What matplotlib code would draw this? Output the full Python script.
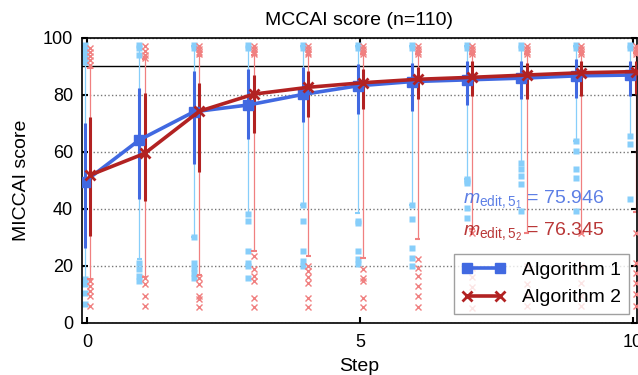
import numpy as np
import matplotlib
matplotlib.use("Agg")
import matplotlib.pyplot as plt

plt.rcParams['font.family'] = ['Liberation Sans', 'DejaVu Sans']
plt.rcParams['mathtext.fontset'] = 'custom'
plt.rcParams['mathtext.rm'] = 'Liberation Sans'
plt.rcParams['mathtext.it'] = 'Liberation Sans:italic'

steps = list(range(11))

# Algorithm 1 (blue)
mean1 = [49.5, 64.1, 74.0, 76.4, 80.1, 83.1, 84.6, 85.2, 85.8, 86.6, 86.9]
box1_lo = [26.3, 43.3, 55.6, 64.6, 70.4, 73.3, 74.3, 76.3, 78.4, 78.9, 79.5]
box1_hi = [70.2, 82.5, 88.3, 88.9, 89.8, 90.6, 91.2, 91.8, 91.8, 92.4, 91.8]
wh1_lo = [15.5, 22.2, 30.2, 38.0, 41.2, 38.6, 41.2, 50.5, 56.1, 63.7, 65.5]
wh1_hi = [97.0, 97.0, 97.0, 97.0, 97.0, 97.0, 97.0, 97.0, 97.0, 97.0, 97.0]
out1_lo = [[15.2, 13.5, 10.5, 6.4],
           [21.1, 18.7, 16.4, 14.6],
           [30.2, 21.1, 19.3, 17.5, 15.8],
           [38.0, 35.7, 25.1, 21.1, 19.9, 15.8],
           [41.2, 35.7, 25.1, 21.6, 19.9],
           [35.7, 35.1, 25.1, 22.2, 20.5],
           [41.2, 36.3, 26.3, 22.8, 19.9],
           [50.5, 49.7, 49.1, 40.4, 36.8],
           [56.1, 53.8, 51.5, 48.5, 39.2],
           [63.7, 60.2, 53.8, 50.9, 39.2],
           [65.5, 62.6, 43.3]]
out1_hi = [[97.5, 96.0, 94.5, 93.0, 91.5],
           [97.5, 96.5, 94.0],
           [97.5, 96.5], [97.5, 96.5], [97.5, 96.5], [97.5, 96.5],
           [97.5, 96.5], [97.5, 96.5], [97.5, 96.5], [97.5, 96.5],
           [97.5, 96.5]]

# Algorithm 2 (red)
mean2 = [51.8, 59.4, 74.2, 80.2, 82.6, 84.2, 85.4, 86.1, 86.9, 87.7, 88.1]
box2_lo = [30.4, 42.7, 52.9, 66.4, 72.3, 75.1, 78.4, 79.5, 78.4, 79.5, 80.1]
box2_hi = [72.3, 80.5, 84.2, 86.8, 88.3, 89.1, 89.8, 91.8, 91.2, 91.8, 91.8]
wh2_lo = [15.2, 16.1, 16.7, 25.1, 23.4, 22.7, 29.2, 33.0, 31.6, 31.4, 38.8]
wh2_hi = [89.5, 92.6, 93.6, 94.0, 94.0, 94.2, 94.2, 94.2, 94.2, 94.5, 94.5]
out2_lo = [[14.6, 12.9, 11.2, 9.4, 5.8],
           [15.8, 13.5, 9.4, 5.8],
           [15.8, 13.5, 9.4, 8.2, 5.6],
           [23.4, 18.7, 16.4, 14.6, 8.8, 5.6],
           [19.9, 18.0, 16.0, 14.0, 8.8, 5.6],
           [18.7, 15.8, 14.6, 8.8, 5.6],
           [22.2, 19.3, 16.4, 12.9, 9.4, 5.6],
           [31.4, 19.3, 16.1, 12.6, 5.0],
           [19.9, 13.5, 9.4, 5.8],
           [31.4, 19.9, 14.0, 9.4, 5.8],
           [31.6, 21.0, 17.5, 14.0, 9.9, 5.8]]
out2_hi = [[96.5, 95.0, 93.5, 92.0, 90.5],
           [97.0, 95.5, 94.0, 93.0],
           [97.0, 96.0, 95.0, 94.2], [97.0, 96.0, 95.0, 94.2],
           [97.0, 96.0, 95.0, 94.2], [97.0, 96.0, 95.0, 94.2],
           [97.0, 96.0, 95.0, 94.2], [97.0, 96.0, 95.0, 94.2],
           [97.0, 96.0, 95.0, 94.2], [97.0, 96.0, 95.0, 94.2],
           [97.0, 96.0, 95.0, 94.2]]

m_edit1 = 75.946
m_edit2 = 76.345

fig = plt.figure(figsize=(6.38, 3.75), dpi=100)
ax = fig.add_axes([0.1285, 0.1395, 0.8699, 0.760])

off = 0.05
x = np.array(steps, dtype=float)
x1 = x - off
x2 = x + off


def draw_spread(xs, lo, hi, blo, bhi, olo, ohi, light, dark, marker, z):
    # thin whiskers with caps
    ax.vlines(xs, lo, hi, color=light, lw=0.9, zorder=z)
    ax.hlines(lo, xs - 0.05, xs + 0.05, color=light, lw=1.5, zorder=z)
    ax.hlines(hi, xs - 0.05, xs + 0.05, color=light, lw=1.5, zorder=z)
    # outliers
    for xi, a, b in zip(xs, olo, ohi):
        pts = list(a) + list(b)
        if marker == 's':
            ax.plot([xi] * len(pts), pts, 's', ms=3.8, color=light,
                    mec='none', zorder=z + 0.1)
        else:
            ax.plot([xi] * len(pts), pts, 'x', ms=3.8, mew=1.0, color=light,
                    zorder=z + 0.1)
    # thick bars
    ax.vlines(xs, blo, bhi, color=dark, lw=2.2, zorder=z + 2)


draw_spread(x1, wh1_lo, wh1_hi, box1_lo, box1_hi, out1_lo, out1_hi,
            '#87CEFA', '#4169E1', 's', 2)
draw_spread(x2, wh2_lo, wh2_hi, box2_lo, box2_hi, out2_lo, out2_hi,
            '#F08080', '#B22222', 'x', 2.5)

ax.plot(x1, mean1, '-s', color='#4169E1', lw=2.6, ms=7, label='Algorithm 1',
        zorder=6)
ax.plot(x2, mean2, '-x', color='#B22222', lw=2.6, ms=7.5, mew=2.0,
        label='Algorithm 2', zorder=7)

ax.axhline(90, color='black', lw=1.0, zorder=1)

ax.set_xlim(-0.1, 10.07)
ax.set_ylim(0, 100)
ax.set_xticks([0, 5, 10])
ax.set_yticks([0, 20, 40, 60, 80, 100])
ax.yaxis.grid(True, linestyle=':', color='#777777', lw=1.0)
ax.set_axisbelow(True)
ax.tick_params(direction='in', length=4, width=1.5, top=True, right=True,
               labelsize=13)
ax.tick_params(axis='x', pad=8)
ax.tick_params(axis='y', pad=6.5)
for s in ax.spines.values():
    s.set_linewidth(1.2)

ax.set_title('MCCAI score (n=110)', fontsize=14, pad=9)
ax.set_xlabel('Step', fontsize=14, labelpad=5)
ax.set_ylabel('MICCAI score', fontsize=14, labelpad=9)

ax.text(6.88, 43.0, r'$m_{\mathrm{edit},5_1}$ = %.3f' % m_edit1,
        color='#4169E1', alpha=0.85, fontsize=14, va='center', zorder=8)
ax.text(6.88, 31.7, r'$m_{\mathrm{edit},5_2}$ = %.3f' % m_edit2,
        color='#B22222', alpha=0.9, fontsize=14, va='center', zorder=8)

leg = ax.legend(loc='lower right', bbox_to_anchor=(0.985, 0.03),
                borderaxespad=0, numpoints=2, fontsize=14, fancybox=False,
                handlelength=2.3, edgecolor='#888888', framealpha=0.8)
leg.set_zorder(9)

fig.savefig('out.png', dpi=100)
